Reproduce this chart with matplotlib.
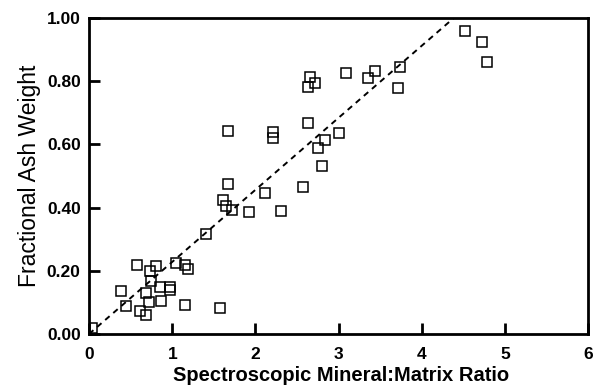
import matplotlib
matplotlib.use("Agg")
import matplotlib.pyplot as plt
import numpy as np

# spectroscopic mineral:matrix ratio vs fractional ash weight
ratio = [0.04, 0.45, 0.38, 0.58, 0.61, 0.68, 0.69, 0.72, 0.73, 0.75, 0.81,
         0.85, 0.87, 0.97, 0.97, 1.05, 1.15, 1.19, 1.15, 1.57, 1.41, 1.61,
         1.65, 1.72, 1.92, 2.12, 2.31, 2.57, 1.67, 1.67, 2.21, 2.21, 2.63,
         2.65, 2.63, 2.72, 2.75, 2.84, 2.80, 3.00, 3.09, 3.35, 3.44, 3.74,
         3.71, 4.52, 4.72, 4.78]
ash = [0.02, 0.09, 0.135, 0.22, 0.074, 0.061, 0.129, 0.10, 0.20, 0.168, 0.215,
       0.148, 0.105, 0.15, 0.139, 0.226, 0.217, 0.205, 0.091, 0.083, 0.316, 0.424,
       0.405, 0.392, 0.386, 0.445, 0.39, 0.466, 0.475, 0.643, 0.638, 0.619, 0.669,
       0.814, 0.783, 0.795, 0.589, 0.614, 0.533, 0.637, 0.827, 0.811, 0.834, 0.845,
       0.778, 0.960, 0.926, 0.861]

# fitted line
fit_x = [0.0, 4.38]
fit_y = [0.0, 1.0]

plt.rcParams['font.family'] = ['Liberation Sans', 'DejaVu Sans']

fig = plt.figure(figsize=(5.95, 3.86), dpi=100)
ax = fig.add_axes([0.1496, 0.1347, 0.8394, 0.8183])

ax.plot(fit_x, fit_y, "--", color="black", lw=1.4, dashes=(3, 2.5))
ax.plot(ratio, ash, "s", mfc="none", mec="black", mew=1.1, ms=7.5)

ax.set_xlim(0, 6)
ax.set_ylim(0, 1.0)
ax.set_xticks(np.arange(0, 7, 1))
ax.set_yticks(np.arange(0, 1.01, 0.2))
ax.set_yticklabels(["%.2f" % v for v in np.arange(0, 1.01, 0.2)], fontsize=12.5, fontweight="bold")
ax.set_xticklabels([str(v) for v in range(7)], fontsize=12.5, fontweight="bold")
ax.tick_params(direction="in", length=8, width=2)
ax.tick_params(axis="x", pad=9)
ax.tick_params(axis="y", pad=6)
for s in ax.spines.values():
    s.set_linewidth(2)

ax.set_xlabel("Spectroscopic Mineral:Matrix Ratio", fontsize=14.5, fontweight="bold", labelpad=0)
ax.xaxis.set_label_coords(0.5045, -0.1)
ax.set_ylabel("Fractional Ash Weight", fontsize=16.5, labelpad=4)

fig.savefig("out.png", dpi=100)
